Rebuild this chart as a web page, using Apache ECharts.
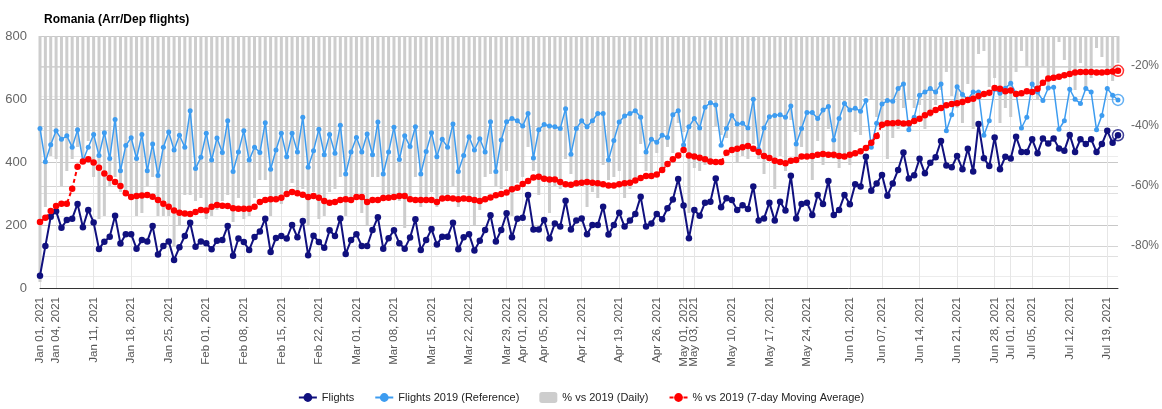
<!DOCTYPE html>
<html>
<head>
<meta charset="utf-8">
<script src="https://cdn.jsdelivr.net/npm/echarts@6/dist/echarts.min.js"></script>
<style>
  html, body { margin: 0; padding: 0; background: #fff; }
  #chart { width: 1162px; height: 409px; }
</style>
</head>
<body>
<div id="chart"></div>
<script>
// daily flights 2021 (Jan 01 .. Jul 21)
const flights = [
  39,133,226,244,191,216,220,267,193,248,208,124,147,163,229,141,171,171,125,152,148,197,106,133,148,89,129,165,207,131,148,142,123,150,152,197,102,157,146,121,162,
  179,220,114,159,165,157,200,161,213,104,166,146,128,183,165,221,108,152,171,133,133,184,225,125,158,183,142,125,160,218,121,152,187,138,163,163,207,123,161,171,
  119,150,184,231,148,184,237,161,220,223,295,186,186,216,157,205,195,277,186,214,221,171,200,200,258,170,200,239,195,214,235,290,195,205,235,218,253,281,346,262,
  158,248,229,271,274,348,256,285,279,248,263,251,322,214,221,271,214,274,246,356,221,267,271,232,295,267,340,232,248,295,266,329,322,417,309,332,359,293,332,375,430,
  348,358,410,364,398,415,467,389,383,419,377,442,370,521,412,387,478,377,417,411,480,432,432,472,428,475,459,475,443,436,486,432,472,457,472,432,457,499,461,485
];

// same weekday in 2019
const flights2019 = [
  506,401,455,499,472,483,447,502,404,447,487,421,493,411,535,372,452,477,411,487,372,457,357,447,495,438,485,447,563,379,415,491,406,476,430,531,370,432,499,406,447,
  430,525,377,438,491,417,491,432,542,383,436,504,423,487,428,517,362,432,478,432,489,423,527,362,432,510,408,483,449,512,362,433,493,417,472,447,521,370,421,480,
  438,474,432,528,370,470,528,538,531,514,554,413,502,519,514,512,506,569,425,506,531,512,531,554,554,406,468,527,546,554,563,542,432,472,463,485,478,550,563,454,
  512,538,508,574,588,581,453,506,548,521,523,508,599,440,508,544,548,550,542,578,457,506,557,557,538,565,576,470,538,586,565,571,561,595,447,523,584,595,593,633,648,
  502,542,612,622,633,622,648,499,550,639,614,599,622,622,485,531,631,618,634,650,618,508,542,648,622,595,635,637,504,531,631,599,586,633,622,502,548,633,612,597
];

// % vs 2019, daily
const pctDaily = [
  -92,-67,-50,-51,-60,-55,-51,-47,-52,-45,-57,-71,-70,-60,-57,-62,-62,-64,-70,-69,-60,-57,-70,-70,-70,-80,-73,-63,-63,-65,-64,-71,-70,-68,-65,-63,-72,-64,-71,-70,-64,
  -58,-58,-70,-64,-66,-62,-59,-63,-61,-73,-62,-71,-70,-62,-61,-57,-70,-65,-64,-69,-73,-57,-57,-65,-63,-64,-65,-74,-64,-57,-67,-65,-62,-67,-65,-64,-60,-67,-62,-64,
  -73,-68,-57,-56,-60,-61,-55,-70,-59,-57,-47,-55,-63,-58,-69,-60,-61,-51,-56,-58,-58,-67,-62,-64,-53,-58,-57,-55,-64,-61,-58,-46,-55,-57,-49,-55,-47,-49,-39,-42,
  -69,-54,-55,-53,-53,-40,-43,-44,-49,-52,-50,-51,-46,-51,-56,-50,-61,-50,-55,-38,-52,-47,-51,-58,-45,-53,-41,-51,-54,-50,-53,-42,-43,-30,-31,-37,-39,-51,-44,-41,-34,
  -31,-34,-33,-41,-37,-33,-28,-22,-30,-34,-39,-26,-41,-16,-15,-27,-24,-39,-34,-37,-22,-15,-20,-27,-31,-20,-28,-25,-12,-18,-23,-28,-19,-28,-24,-14,-17,-21,-25,-19
];

// % vs 2019, 7-day moving average
const pctAvg = [
  -72.0,-70.6,-68.3,-66.7,-65.9,-65.9,-60.9,-53.6,-51.8,-51.1,-52.2,-53.9,-55.8,-57.3,-58.7,-60.0,-62.4,-63.7,-63.3,-63.2,-63.0,-63.6,-64.7,-65.9,-66.9,-68.2,-68.9,-69.2,-69.3,-68.7,-68.0,-68.2,-66.9,-66.3,-66.6,-66.7,-67.4,-67.6,-67.6,-67.6,-66.9,
  -65.3,-64.7,-64.4,-64.4,-63.9,-62.7,-62.0,-62.4,-62.9,-63.7,-63.3,-63.9,-65.0,-65.6,-65.3,-64.7,-64.4,-64.7,-63.7,-63.7,-65.3,-64.7,-64.7,-64.0,-63.9,-63.7,-63.3,-63.3,-64.4,-64.7,-64.7,-64.7,-64.7,-65.3,-64.2,-64.0,-64.2,-64.4,-64.2,-64.3,
  -64.7,-65.0,-64.4,-63.8,-63.1,-62.7,-62.2,-61.1,-60.6,-59.3,-58.3,-57.2,-56.9,-57.6,-57.8,-57.8,-58.7,-59.4,-59.6,-59.1,-58.9,-58.7,-58.9,-59.1,-59.4,-59.8,-59.8,-59.4,-59.1,-58.9,-58.2,-57.3,-56.7,-56.7,-56.2,-54.7,-52.7,-51.1,-49.8,-48.0,
  -49.8,-50.2,-50.6,-51.1,-51.8,-52.0,-52.0,-48.9,-48.0,-47.6,-47.1,-46.7,-47.6,-48.7,-50.0,-50.7,-51.6,-52.0,-52.4,-51.6,-51.3,-50.2,-50.2,-50.0,-49.6,-49.3,-49.6,-49.6,-50.0,-50.2,-49.6,-49.1,-48.4,-47.3,-45.6,-43.3,-39.6,-39.1,-39.1,-38.9,-39.2,
  -39.1,-38.3,-37.6,-36.4,-35.6,-34.7,-34.0,-33.1,-32.7,-32.4,-32.0,-31.3,-30.9,-30.0,-29.3,-28.9,-27.3,-27.6,-28.4,-28.2,-29.3,-29.1,-28.4,-28.7,-27.6,-25.6,-24.2,-23.9,-23.6,-23.1,-22.7,-22.2,-22.0,-22.0,-22.0,-22.2,-22.2,-22.0,-21.8,-21.6
];

const tickDates = [
  'Jan 01, 2021','Jan 04, 2021','Jan 11, 2021','Jan 18, 2021','Jan 25, 2021',
  'Feb 01, 2021','Feb 08, 2021','Feb 15, 2021','Feb 22, 2021',
  'Mar 01, 2021','Mar 08, 2021','Mar 15, 2021','Mar 22, 2021','Mar 29, 2021',
  'Apr 01, 2021','Apr 05, 2021','Apr 12, 2021','Apr 19, 2021','Apr 26, 2021',
  'May 01, 2021','May 03, 2021','May 10, 2021','May 17, 2021','May 24, 2021',
  'Jun 01, 2021','Jun 07, 2021','Jun 14, 2021','Jun 21, 2021','Jun 28, 2021',
  'Jul 01, 2021','Jul 05, 2021','Jul 12, 2021','Jul 19, 2021'
];

const leftTicks = [0, 200, 400, 600, 800];
const rightTicks = [-80, -60, -40, -20];
const rightMinorTicks = [-90, -70, -50, -30];

// category axis: one entry per day
const monthNames = ['Jan','Feb','Mar','Apr','May','Jun','Jul','Aug','Sep','Oct','Nov','Dec'];
const days = [];
for (let i = 0; i < flights.length; i++) {
  const d = new Date(Date.UTC(2021, 0, 1 + i));
  days.push(monthNames[d.getUTCMonth()] + ' ' + String(d.getUTCDate()).padStart(2, '0') + ', ' + d.getUTCFullYear());
}
const tickSet = new Set(tickDates);
const isTick = (idx, val) => tickSet.has(val);

const NAVY = '#10107e';
const BLUE = '#3d9cf0';
const RED = '#ff0000';
const FONT = 'Arial, "Liberation Sans", sans-serif';

const last = flights.length - 1;
const ring = (color, value, yAxisIndex) => ({
  type: 'scatter',
  yAxisIndex: yAxisIndex,
  data: [[last, value]],
  symbol: 'circle',
  symbolSize: 11,
  itemStyle: { color: 'rgba(255,255,255,0)', borderColor: color, borderWidth: 1.5 },
  silent: true,
  z: 6
});

const chart = echarts.init(document.getElementById('chart'), null, { renderer: 'canvas' });

chart.setOption({
  animation: false,
  textStyle: { fontFamily: FONT },
  title: {
    text: 'Romania (Arr/Dep flights)',
    left: 39,
    top: 9,
    textStyle: { fontSize: 12, fontWeight: 'bold', color: '#000', fontFamily: FONT }
  },
  legend: {
    bottom: 1,
    left: 'center',
    itemWidth: 18,
    itemHeight: 11,
    itemGap: 20,
    textStyle: { fontSize: 11, color: '#222', fontFamily: FONT },
    data: ['Flights', 'Flights 2019 (Reference)', '% vs 2019 (Daily)', '% vs 2019 (7-day Moving Average)']
  },
  grid: { left: 40, right: 40, top: 36, bottom: 121 },
  xAxis: {
    type: 'category',
    data: days,
    boundaryGap: false,
    axisLine: { lineStyle: { color: '#333', width: 1 } },
    axisTick: { show: false, interval: isTick },
    axisLabel: {
      interval: isTick,
      rotate: 90,
      margin: 9,
      fontSize: 11.5,
      color: '#555',
      fontFamily: FONT
    },
    splitLine: { show: true, interval: isTick, lineStyle: { color: '#e6e6e6' } }
  },
  yAxis: [
    {
      type: 'value',
      min: 0,
      max: 800,
      interval: 200,
      axisLine: { show: false },
      axisTick: { show: false, customValues: leftTicks },
      axisLabel: { customValues: leftTicks, margin: 13, fontSize: 13, color: '#666', fontFamily: FONT },
      splitLine: { lineStyle: { color: '#c8c8c8' } },
      minorTick: { show: false, splitNumber: 2 },
      minorSplitLine: { show: true, lineStyle: { color: '#e0e0e0' } }
    },
    {
      type: 'value',
      min: -94,
      max: -10,
      position: 'right',
      axisLine: { show: false },
      axisTick: { show: false, customValues: rightTicks },
      axisLabel: { customValues: rightTicks, formatter: '{value}%', margin: 13, fontSize: 12, color: '#666', fontFamily: FONT },
      splitLine: { show: true, lineStyle: { color: '#d4d4d4' } }
    },
    {
      type: 'value',
      min: -94,
      max: -10,
      position: 'right',
      axisLine: { show: false },
      axisTick: { show: false, customValues: rightMinorTicks },
      axisLabel: { show: false },
      splitLine: { show: true, lineStyle: { color: '#ececec' } }
    }
  ],
  series: [
    {
      name: '% vs 2019 (Daily)',
      type: 'bar',
      yAxisIndex: 1,
      data: pctDaily,
      barWidth: 3,
      itemStyle: { color: '#cdcdcd' },
      z: 1
    },
    {
      name: 'Flights',
      type: 'line',
      data: flights,
      symbol: 'circle',
      symbolSize: 6.5,
      showAllSymbol: true,
      lineStyle: { color: NAVY, width: 2 },
      itemStyle: { color: NAVY },
      z: 3
    },
    {
      name: 'Flights 2019 (Reference)',
      type: 'line',
      data: flights2019,
      symbol: 'circle',
      symbolSize: 5,
      showAllSymbol: true,
      lineStyle: { color: BLUE, width: 1.5 },
      itemStyle: { color: BLUE },
      z: 4
    },
    {
      name: '% vs 2019 (7-day Moving Average)',
      type: 'line',
      yAxisIndex: 1,
      data: pctAvg,
      symbol: 'circle',
      symbolSize: 6.5,
      showAllSymbol: true,
      lineStyle: { color: RED, width: 2, type: [4, 3] },
      itemStyle: { color: RED },
      z: 5
    },
    ring(NAVY, flights[last], 0),
    ring(BLUE, flights2019[last], 0),
    ring(RED, pctAvg[last], 1)
  ]
});
</script>
</body>
</html>
